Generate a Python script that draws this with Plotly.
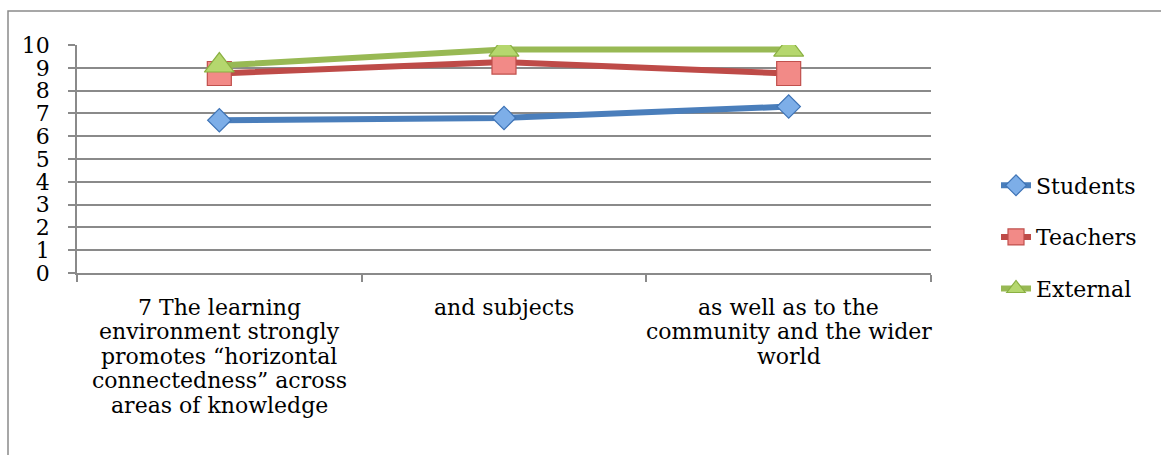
import plotly.graph_objects as go

# Category labels (line breaks as they appear under each category)
categories = ["c1", "c2", "c3"]
category_lines = [
    ["7 The learning", "environment strongly", "promotes \u201chorizontal",
     "connectedness\u201d across", "areas of knowledge"],
    ["and subjects"],
    ["as well as to the", "community and the wider", "world"],
]

students = [6.7, 6.8, 7.3]
teachers = [8.75, 9.25, 8.75]
external = [9.1, 9.8, 9.8]

y_ticks = list(range(0, 11))

FONT = "DejaVu Serif"
GRID = "#8a8a8a"

W, H = 1161, 455
ML, MR, MT, MB = 77, 230, 45, 182

fig = go.Figure()

series = [
    ("Students", students, "#4A7EBB", "diamond", 18, "#7DAEE8", "#3F74B6"),
    ("Teachers", teachers, "#BE4B48", "square", 24, "#F28A87", "#C0504D"),
    ("External", external, "#98B954", "triangle-up", 26, "#B5D76E", "#8AB042"),
]
for name, vals, lc, sym, sz, fc, bc in series:
    fig.add_trace(go.Scatter(
        x=categories, y=vals, name=name, mode="lines+markers",
        legendgroup=name,
        line=dict(color=lc, width=6),
        marker=dict(symbol=sym, size=sz, color=fc, line=dict(color=bc, width=1.2)),
    ))

# Category labels under the x axis, one annotation per line
annotations = []
for cat, lines in zip(categories, category_lines):
    for i, txt in enumerate(lines):
        annotations.append(dict(
            x=cat, xref="x", y=0, yref="y", text=txt, showarrow=False,
            yanchor="middle", xanchor="center", yshift=-34 - 24.5 * i,
            font=dict(family=FONT, size=22, color="#000000"),
        ))

plot_w = W - ML - MR
plot_h = H - MT - MB

fig.update_layout(
    width=W, height=H, autosize=False,
    margin=dict(l=ML, r=MR, t=MT, b=MB, pad=0),
    paper_bgcolor="white", plot_bgcolor="white",
    font=dict(family=FONT, size=22, color="#000000"),
    annotations=annotations,
    legend=dict(
        x=(996 - ML) / plot_w, xanchor="left",
        y=(H - MB - 237) / plot_h, yanchor="middle",
        font=dict(family=FONT, size=22, color="#000000"),
        tracegroupgap=20, traceorder="grouped",
        bgcolor="rgba(0,0,0,0)",
    ),
    shapes=[dict(
        type="rect", xref="paper", yref="paper",
        x0=(8 - ML) / plot_w, x1=(W + 20 - ML) / plot_w,
        y0=-(MB + 20) / plot_h, y1=(H - MB - 11) / plot_h,
        line=dict(color=GRID, width=1.5), layer="below",
    )],
)

fig.update_xaxes(
    type="category", range=[-0.5, 2.5],
    showticklabels=False, showgrid=False,
    showline=True, linecolor=GRID, linewidth=1.5,
    ticks="outside", tickson="boundaries", ticklen=7,
    tickcolor=GRID, tickwidth=1.5, zeroline=False,
)
fig.update_yaxes(
    range=[0, 10], tickvals=y_ticks, ticktext=[str(v) for v in y_ticks],
    showgrid=True, gridcolor=GRID, gridwidth=1.5,
    showline=True, linecolor=GRID, linewidth=1.5,
    ticks="outside", ticklen=7, tickcolor=GRID, tickwidth=1.5,
    ticklabelstandoff=14, zeroline=False,
    tickfont=dict(family=FONT, size=22, color="#000000"),
)

fig.write_html("out.html")
